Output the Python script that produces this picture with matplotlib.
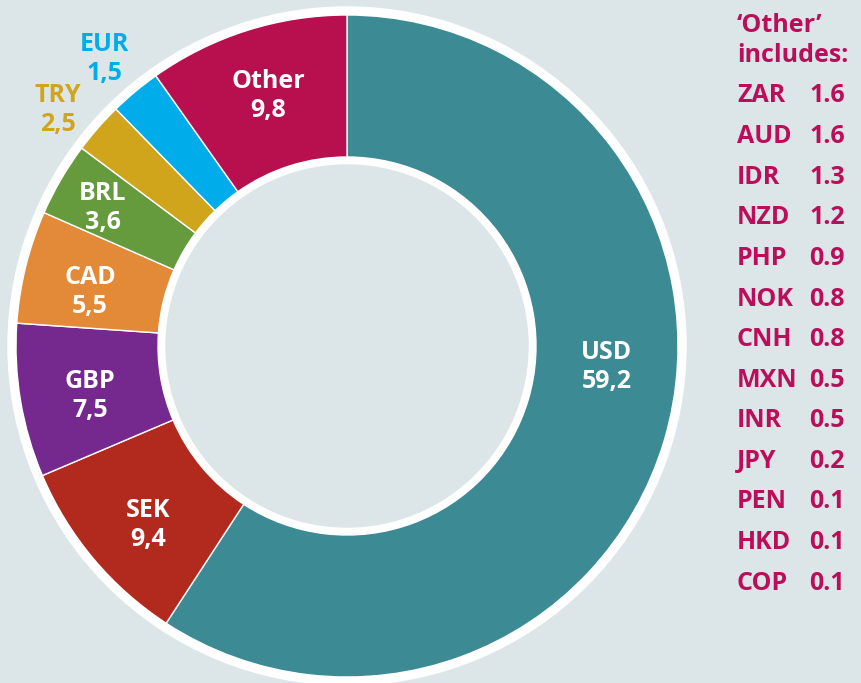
import matplotlib.pyplot as plt
from matplotlib.patches import Circle

# currency shares, clockwise from the top
currencies = ["USD", "SEK", "GBP", "CAD", "BRL", "TRY", "EUR", "Other"]
# EUR wedge is drawn as wide as TRY in the picture (label says 1,5)
shares = [59.2, 9.4, 7.5, 5.5, 3.6, 2.5, 2.5, 9.8]
share_labels = ["59,2", "9,4", "7,5", "5,5", "3,6", "2,5", "1,5", "9,8"]
colors = ["#3b8a94", "#b22a1e", "#75288e", "#e38a38", "#659a3d", "#d0a51c", "#00adea", "#b80f4e"]

# breakdown of 'Other'
other_codes = ["ZAR", "AUD", "IDR", "NZD", "PHP", "NOK", "CNH", "MXN", "INR", "JPY", "PEN", "HKD", "COP"]
other_values = ["1.6", "1.6", "1.3", "1.2", "0.9", "0.8", "0.8", "0.5", "0.5", "0.2", "0.1", "0.1", "0.1"]

bg = "#dce6e8"
magenta = "#bb0d5a"
plt.rcParams['font.family'] = ['Open Sans', 'DejaVu Sans']
fs = 18

fig = plt.figure(figsize=(8.62, 6.83), dpi=100, facecolor=bg)
ax = fig.add_axes([0, 0, 1, 1])
ax.set_facecolor(bg)

H = 683
cx, cy = 347, H - 346
R = 331

# white rings around the donut
ax.add_patch(Circle((cx, cy), R + 8, color="white", zorder=1))
ax.pie(shares, colors=colors, startangle=90, counterclock=False,
       radius=R, center=(cx, cy), frame=True,
       wedgeprops=dict(width=R - 189, edgecolor="white", linewidth=1, zorder=2))
ax.add_patch(Circle((cx, cy), 181, color=bg, zorder=3))

# label positions (pixels from top-left)
label_pos = {"USD": (607, 367), "SEK": (148, 525), "GBP": (90, 396), "CAD": (90, 292),
             "BRL": (103, 208), "TRY": (58, 110), "EUR": (104, 59), "Other": (268, 96)}
for name, lab, col in zip(currencies, share_labels, colors):
    x, y = label_pos[name]
    tcol = col if name in ("TRY", "EUR") else "white"
    ax.text(x, H - y, name + "\n" + lab, ha="center", va="center", color=tcol,
            fontsize=fs, fontweight="bold", linespacing=1.2, zorder=5)

# side list
ax.text(737, H - 25, "\u2018Other\u2019", ha="left", va="center", color=magenta,
        fontsize=fs, fontweight="bold")
ax.text(737, H - 56, "includes:", ha="left", va="center", color=magenta,
        fontsize=fs, fontweight="bold")
for i, (code, val) in enumerate(zip(other_codes, other_values)):
    y = 96 + i * 40.6
    ax.text(737, H - y, code, ha="left", va="center", color=magenta, fontsize=fs, fontweight="bold")
    ax.text(845, H - y, val, ha="right", va="center", color=magenta, fontsize=fs, fontweight="bold")

ax.set_xlim(0, 862)
ax.set_ylim(0, H)
ax.set_aspect("auto")
ax.axis("off")

fig.savefig("out.png", dpi=100, facecolor=bg)
